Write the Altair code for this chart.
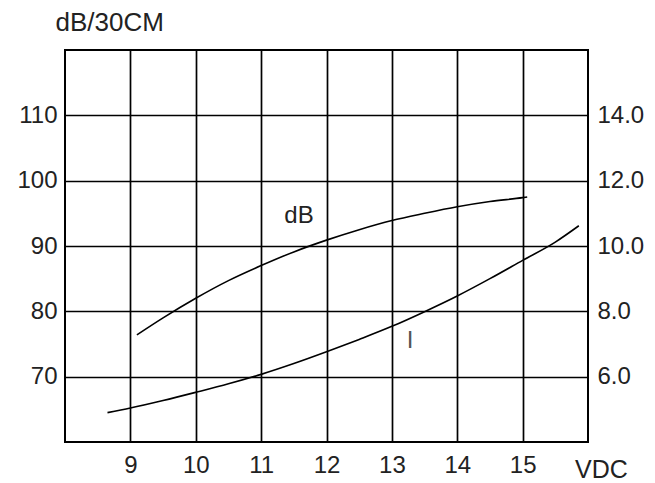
import altair as alt
import pandas as pd

# --- data ---
vdc_db = [9.1, 9.5, 10.0, 10.5, 11.0, 11.5, 12.0, 12.5, 13.0, 13.5, 14.0, 14.5, 15.0, 15.07]
db_vals = [76.4, 79.0, 82.0, 84.7, 87.0, 89.1, 90.9, 92.5, 93.9, 95.0, 96.0, 96.8, 97.4, 97.5]

vdc_i = [8.65, 9.0, 9.5, 10.0, 10.5, 11.0, 11.5, 12.0, 12.5, 13.0, 13.5, 14.0, 14.5, 15.0, 15.5, 15.86]
i_vals = [4.9, 5.04, 5.27, 5.52, 5.78, 6.07, 6.40, 6.76, 7.14, 7.54, 7.99, 8.47, 9.0, 9.56, 10.12, 10.62]

x_ticks = [9, 10, 11, 12, 13, 14, 15]
db_ticks = [70, 80, 90, 100, 110]
i_ticks = [6, 8, 10, 12, 14]

db_label = {"x": [11.58], "y": [94.6], "t": ["dB"]}
i_label = {"x": [13.28], "y": [7.08], "t": ["I"]}

FONT = "Liberation Sans"
FS = 24
TXT = "#222222"

df_db = pd.DataFrame({"vdc": vdc_db, "db": db_vals})
df_i = pd.DataFrame({"vdc": vdc_i, "i": i_vals})

xscale = alt.Scale(domain=[8, 16], nice=False, zero=False)
yl_scale = alt.Scale(domain=[60, 120], nice=False, zero=False)
yr_scale = alt.Scale(domain=[4, 16], nice=False, zero=False)

x_axis = alt.Axis(values=x_ticks, format="d", grid=True, gridColor="black", gridWidth=1.7, gridOpacity=1,
                  ticks=False, domain=False, labelFont=FONT, labelFontSize=FS, labelColor=TXT,
                  labelPadding=11, title="VDC", titleFont=FONT, titleFontSize=25,
                  titleFontWeight="normal", titleColor=TXT, titleX=536, titleY=35,
                  titleAlign="center", titleBaseline="alphabetic")

yl_axis = alt.Axis(values=db_ticks, format="d", grid=True, gridColor="black", gridWidth=1.7, gridOpacity=1,
                   ticks=False, domain=False, labelFont=FONT, labelFontSize=FS, labelColor=TXT,
                   labelPadding=8, title="dB/30CM", titleFont=FONT, titleFontSize=26,
                   titleFontWeight="normal", titleColor=TXT, titleAngle=0, titleX=-10, titleY=-20,
                   titleAlign="left", titleBaseline="alphabetic")

yr_axis = alt.Axis(values=i_ticks, grid=False, orient="right", format=".1f",
                   ticks=False, domain=False, labelFont=FONT, labelFontSize=FS, labelColor=TXT,
                   labelPadding=9, title=None)

db_line = alt.Chart(df_db).mark_line(color="black", strokeWidth=1.6, interpolate="monotone").encode(
    x=alt.X("vdc:Q", scale=xscale, axis=x_axis),
    y=alt.Y("db:Q", scale=yl_scale, axis=yl_axis),
)
db_text = alt.Chart(pd.DataFrame(db_label)).mark_text(font=FONT, fontSize=FS, color=TXT).encode(
    x=alt.X("x:Q", scale=xscale, axis=x_axis), y=alt.Y("y:Q", scale=yl_scale, axis=yl_axis), text="t:N"
)
left = alt.layer(db_line, db_text)

i_line = alt.Chart(df_i).mark_line(color="black", strokeWidth=1.6, interpolate="monotone").encode(
    x=alt.X("vdc:Q", scale=xscale, axis=x_axis),
    y=alt.Y("i:Q", scale=yr_scale, axis=yr_axis),
)
i_text = alt.Chart(pd.DataFrame(i_label)).mark_text(font=FONT, fontSize=FS, color="#555555").encode(
    x=alt.X("x:Q", scale=xscale, axis=x_axis), y=alt.Y("y:Q", scale=yr_scale, axis=yr_axis), text="t:N"
)
right = alt.layer(i_line, i_text)

chart = alt.layer(left, right).resolve_scale(y="independent").properties(
    width=523, height=392,
    autosize=alt.AutoSizeParams(type="none"),
    padding={"left": 57, "top": 42, "right": 58, "bottom": 40},
    background="white",
).configure_view(stroke="black", strokeWidth=2)

chart.save("out.html", embed_options={"renderer": "svg", "actions": False})
